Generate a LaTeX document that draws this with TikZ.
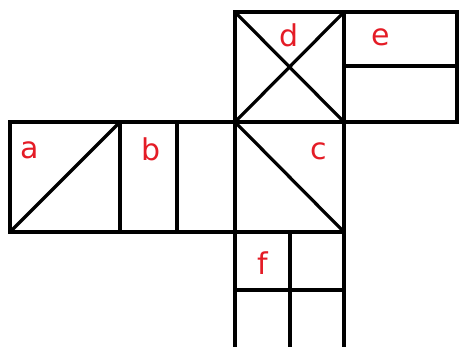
\documentclass[tikz,border=0pt]{standalone}
\usepackage{fontspec}
\newfontfamily\labfont{DejaVu Sans}
\definecolor{labred}{RGB}{228,28,38}
\begin{document}
\begin{tikzpicture}[x=1pt,y=-1pt,
  edge/.style={line width=3.4pt,black,line cap=rect},
  diag/.style={line width=3.2pt,black,line cap=butt},
  lab/.style={anchor=base,inner sep=0pt,text=labred,font=\labfont\fontsize{30}{30}\selectfont}]
\useasboundingbox (0,0) rectangle (460,346);
% grid coordinates
\coordinate (dTL) at (235,12);
\coordinate (dTR) at (344,12);
\coordinate (eTR) at (457,12);
\coordinate (dBL) at (235,122);
\coordinate (dBR) at (344,122);
\coordinate (eBR) at (457,122);
\coordinate (aTL) at (10,122);
\coordinate (aTR) at (120,122);
\coordinate (aBL) at (10,232);
\coordinate (aBR) at (120,232);
\coordinate (cBL) at (235,232);
\coordinate (cBR) at (344,232);
% d
\draw[edge] (dTL) rectangle (dBR);
\draw[diag] (dTL) -- (dBR);
\draw[diag] (dTR) -- (dBL);
% e
\draw[edge] (dTR) -- (eTR) -- (eBR) -- (dBR);
\draw[edge] (344,66) -- (457,66);
% a
\draw[edge] (aTL) rectangle (aBR);
\draw[diag] (aBL) -- (aTR);
% b
\draw[edge] (aTR) -- (dBL);
\draw[edge] (aBR) -- (cBL);
\draw[edge] (177,122) -- (177,232);
% c
\draw[edge] (dBL) -- (cBL) -- (cBR) -- (dBR);
\draw[diag] (dBL) -- (cBR);
% f
\draw[edge] (cBL) -- (235,350);
\draw[edge] (cBR) -- (344,350);
\draw[edge] (290,232) -- (290,350);
\draw[edge] (235,290) -- (344,290);
% labels
\node[lab] (la) at (30,158) {a};
\node[lab] (lb) at (151,160) {b};
\node[lab] (lc) at (319,159) {c};
\node[lab] (ld) at (289,46) {d};
\node[lab] (le) at (381,45) {e};
\node[lab] (lf) at (263,274) {f};
\end{tikzpicture}
\end{document}
